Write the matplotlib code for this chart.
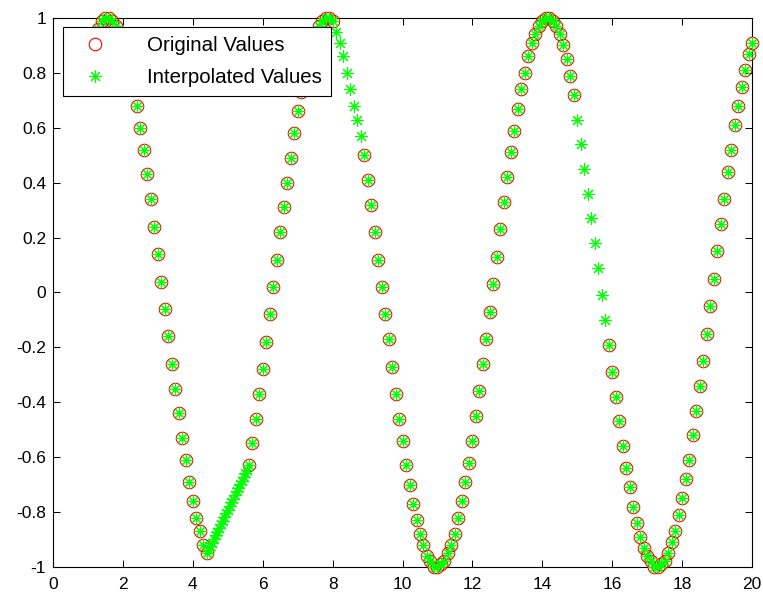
import matplotlib
matplotlib.use("Agg")
import matplotlib.pyplot as plt

# sampled points (circles)
x_orig = [
    1.1, 1.2, 1.3, 1.4, 1.5, 1.6, 1.7, 1.8, 1.9, 2.0, 2.1, 2.2, 2.3, 2.4, 2.5, 2.6, 2.7,
    2.8, 2.9, 3.0, 3.1, 3.2, 3.3, 3.4, 3.5, 3.6, 3.7, 3.8, 3.9, 4.0, 4.1, 4.2, 4.3, 4.4,
    5.6, 5.7, 5.8, 5.9, 6.0, 6.1, 6.2, 6.3, 6.4, 6.5, 6.6, 6.7, 6.8, 6.9, 7.0, 7.1, 7.2,
    7.3, 7.4, 7.5, 7.6, 7.7, 7.8, 7.9, 8.0,
    8.9, 9.0, 9.1, 9.2, 9.3, 9.4, 9.5, 9.6, 9.7, 9.8, 9.9,
    10.0, 10.1, 10.2, 10.3, 10.4, 10.5, 10.6, 10.7, 10.8, 10.9,
    11.0, 11.1, 11.2, 11.3, 11.4, 11.5, 11.6, 11.7, 11.8, 11.9,
    12.0, 12.1, 12.2, 12.3, 12.4, 12.5, 12.6, 12.7, 12.8, 12.9,
    13.0, 13.1, 13.2, 13.3, 13.4, 13.5, 13.6, 13.7, 13.8, 13.9,
    14.0, 14.1, 14.2, 14.3, 14.4, 14.5, 14.6, 14.7, 14.8, 14.9,
    15.9, 16.0, 16.1, 16.2, 16.3, 16.4, 16.5, 16.6, 16.7, 16.8, 16.9,
    17.0, 17.1, 17.2, 17.3, 17.4, 17.5, 17.6, 17.7, 17.8, 17.9,
    18.0, 18.1, 18.2, 18.3, 18.4, 18.5, 18.6, 18.7, 18.8, 18.9,
    19.0, 19.1, 19.2, 19.3, 19.4, 19.5, 19.6, 19.7, 19.8, 19.9, 20.0,
]
y_orig = [
    0.89, 0.93, 0.96, 0.99, 1.00, 1.00, 0.99, 0.97, 0.95, 0.91, 0.86, 0.81, 0.75, 0.68,
    0.60, 0.52, 0.43, 0.34, 0.24, 0.14, 0.04, -0.06, -0.16, -0.26, -0.35, -0.44, -0.53,
    -0.61, -0.69, -0.76, -0.82, -0.87, -0.92, -0.95,
    -0.63, -0.55, -0.46, -0.37, -0.28, -0.18, -0.08, 0.02, 0.12, 0.22, 0.31, 0.40, 0.49,
    0.58, 0.66, 0.73, 0.79, 0.85, 0.90, 0.94, 0.97, 0.99, 1.00, 1.00, 0.99,
    0.50, 0.41, 0.32, 0.22, 0.12, 0.02, -0.08, -0.17, -0.27, -0.37, -0.46, -0.54, -0.63,
    -0.70, -0.77, -0.83, -0.88, -0.92, -0.96, -0.98, -1.00, -1.00, -0.99, -0.98, -0.95,
    -0.92, -0.88, -0.82, -0.76, -0.69, -0.62, -0.54, -0.45, -0.36, -0.26, -0.17, -0.07,
    0.03, 0.13, 0.23, 0.33, 0.42, 0.51, 0.59, 0.67, 0.74, 0.80, 0.86, 0.91, 0.94, 0.97,
    0.99, 1.00, 1.00, 0.99, 0.97, 0.94, 0.90, 0.85, 0.79, 0.72,
    -0.19, -0.29, -0.38, -0.47, -0.56, -0.64, -0.71, -0.78, -0.84, -0.89, -0.93, -0.96,
    -0.98, -1.00, -1.00, -0.99, -0.98, -0.95, -0.91, -0.87, -0.81, -0.75, -0.68, -0.61,
    -0.52, -0.43, -0.34, -0.25, -0.15, -0.05,
    0.05, 0.15, 0.25, 0.34, 0.44, 0.52, 0.61, 0.68, 0.75, 0.81, 0.87, 0.91,
]

# extra interpolated points inside the gaps (stars only)
x_fill = [
    4.45, 4.5, 4.55, 4.6, 4.65, 4.7, 4.75, 4.8, 4.85, 4.9, 4.95, 5.0, 5.05, 5.1, 5.15,
    5.2, 5.25, 5.3, 5.35, 5.4, 5.45, 5.5, 5.55,
    8.1, 8.2, 8.3, 8.4, 8.5, 8.6, 8.7, 8.8,
    15.0, 15.1, 15.2, 15.3, 15.4, 15.5, 15.6, 15.7, 15.8,
]
y_fill = [
    -0.938, -0.925, -0.912, -0.898, -0.885, -0.871, -0.858, -0.845, -0.831, -0.818,
    -0.805, -0.791, -0.778, -0.765, -0.751, -0.738, -0.725, -0.711, -0.698, -0.685,
    -0.671, -0.658, -0.645,
    0.95, 0.91, 0.86, 0.80, 0.74, 0.68, 0.63, 0.57,
    0.63, 0.54, 0.45, 0.36, 0.27, 0.18, 0.09, -0.01, -0.10,
]

x_ticks = [0, 2, 4, 6, 8, 10, 12, 14, 16, 18, 20]
y_ticks = [-1, -0.8, -0.6, -0.4, -0.2, 0, 0.2, 0.4, 0.6, 0.8, 1]
y_tick_labels = ["-1", "-0.8", "-0.6", "-0.4", "-0.2", "0", "0.2", "0.4", "0.6", "0.8", "1"]

plt.rcParams["font.family"] = ["Liberation Sans", "DejaVu Sans"]

fig = plt.figure(figsize=(7.63, 5.94), dpi=100)
ax = fig.add_axes([0.0695, 0.0455, 0.9161, 0.9242])

x_interp = x_orig + x_fill
y_interp = y_orig + y_fill

ax.plot(x_orig, y_orig, linestyle="none", marker="o", markersize=9,
        markerfacecolor="none", markeredgecolor="red", markeredgewidth=0.8,
        label="Original Values", clip_on=False, zorder=3)
ax.plot(x_interp, y_interp, linestyle="none", marker=(8, 2, 0), markersize=9,
        markeredgecolor="#00ff00", markeredgewidth=0.8,
        label="Interpolated Values", clip_on=False, zorder=4)

ax.set_xlim(0, 20)
ax.set_ylim(-1, 1)
ax.set_xticks(x_ticks)
ax.set_yticks(y_ticks)
ax.set_yticklabels(y_tick_labels)
ax.tick_params(direction="in", top=True, right=True, length=5, width=0.75,
               labelsize=12.5)
ax.tick_params(axis="x", pad=7)
ax.tick_params(axis="y", pad=5)
for sp in ax.spines.values():
    sp.set_linewidth(0.8)
    sp.set_color("black")

# legend box sits just inside the upper-left corner
leg = ax.legend(loc="upper left", bbox_to_anchor=(10 / 699, 1 - 9 / 549),
                borderaxespad=0, fontsize=14.8, handlelength=2.2, handletextpad=1.45,
                borderpad=0.45, labelspacing=0.62, fancybox=False, framealpha=1,
                edgecolor="black", numpoints=1)
leg.get_frame().set_linewidth(0.8)

fig.savefig("out.png", dpi=100)
